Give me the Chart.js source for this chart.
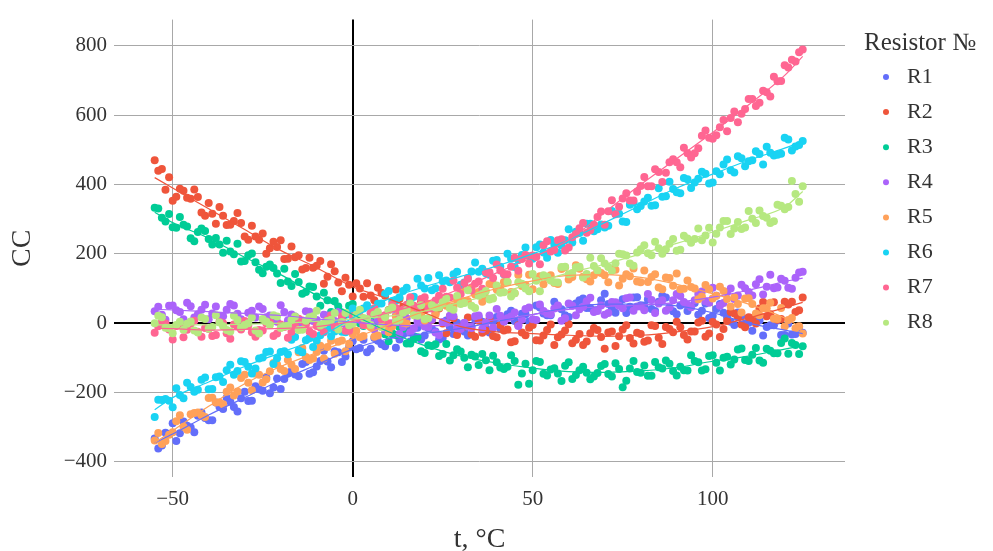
<!DOCTYPE html>
<html>
<head>
<meta charset="utf-8">
<script src="https://cdn.jsdelivr.net/npm/chart.js@4.4.1/dist/chart.umd.min.js"></script>
<style>
html, body { margin: 0; padding: 0; background: #fff; }
</style>
</head>
<body>
<canvas id="chart" width="993" height="551"></canvas>
<script>
// measurement temperatures, °C (two sweeps)
const temps = [-55,-53,-51,-49,-47,-45,-43,-41,-39,-37,-35,-33,-31,-29,-27,-25,-23,-21,-19,-17,
  -15,-13,-11,-9,-7,-5,-3,-1,1,3,5,7,9,11,13,15,17,19,21,23,25,27,29,31,33,35,37,39,41,43,
  45,47,49,51,53,55,57,59,61,63,65,67,69,71,73,75,77,79,81,83,85,87,89,91,93,95,97,99,101,103,
  105,107,109,111,113,115,117,119,121,123,125];
const temps2 = [-54,-52,-50,-48,-46,-44,-42,-40,-38,-36,-34,-32,-30,-28,-26,-24,-22,-20,-18,-16,
  -14,-12,-10,-8,-6,-4,-2,0,2,4,6,8,10,12,14,16,18,20,22,24,26,28,30,32,34,36,38,40,42,44,
  46,48,50,52,54,56,58,60,62,64,66,68,70,72,74,76,78,80,82,84,86,88,90,92,94,96,98,100,102,104,
  106,108,110,112,114,116,118,120,122,124];

const seriesNames = ['R1','R2','R3','R4','R5','R6','R7','R8'];
const legendTitle = 'Resistor №';

// sweep 1
const r1 = [-333,-353,-320,-340,-284,-301,-267,-274,-280,-242, -215,-242,-217,-225,-182,-195,-202,-160,-161,-138,
  -153,-112,-142,-109,-111,-81,-112,-70,-75,-48, -74,-51,-67,-32,-47,-14,-38,-47,-15,-24,
  -43,-12,1,-24,-10,16,-15,5,-16,26, 6,27,5,51,28,23,49,23,51,66,
  44,37,66,55,30,69,47,75,51,41, 62,74,34,51,35,58,36,15,41,30,
  4,31,-1,-22,8,-11,-6,-34,-1,-31, -28];
const r2 = [470,445,421,365,382,359,364,310,316,335, 283,295,289,241,250,259,216,220,185,221,
  196,159,160,179,134,150,92,111,115,76, 80,102,79,42,70,36,38,63,4,28,
  -1,20,-34,-10,-32,7,-22,-37,-5,-18, -52,-27,-13,-49,-36,-4,-41,-21,-58,-31,
  -53,-14,-40,-27,-66,-18,-43,-28,-54,-6, -42,-11,-26,-12,-47,-24,7,-30,-4,-17,
  32,17,-12,14,42,20,60,12,54,32, 74];
const r3 = [333,304,315,275,284,245,263,266,227,227, 238,199,178,196,176,144,169,143,157,107,
  119,90,104,50,66,64,31,50,15,-8, 6,5,-32,-29,-12,-59,-45,-81,-64,-61,
  -89,-108,-75,-100,-91,-121,-107,-94,-128,-126, -109,-145,-175,-109,-146,-134,-145,-123,-161,-136,
  -143,-154,-124,-147,-116,-185,-131,-141,-122,-152, -127,-108,-138,-126,-137,-109,-137,-95,-114,-100,
  -119,-76,-106,-91,-108,-74,-87,-57,-88,-63, -67];
const r4 = [34,24,50,37,11,49,26,53,28,18, 39,51,11,30,16,41,22,4,32,25,
  3,34,6,-11,22,6,13,-12,23,-5, 1,9,-22,0,-31,14,-15,7,-11,-27,
  3,21,-15,1,-14,22,1,-13,21,14, 31,10,45,9,35,26,51,14,50,40,
  63,32,51,29,60,43,74,48,37,67, 57,36,66,78,53,66,91,59,79,58,
  100,80,101,80,127,105,101,128,102,131, 148];
const r5 = [-339,-349,-322,-283,-299,-263,-258,-271,-215,-228, -198,-209,-158,-172,-146,-171,-139,-119,-138,-120,
  -84,-98,-102,-65,-69,-88,-50,-60,-22,-37, -12,-36,-7,-10,31,-1,29,25,56,24,
  63,46,67,63,101,90,73,112,99,119, 86,107,140,127,112,138,113,161,133,157,
  127,138,145,118,154,128,135,120,152,133, 103,132,108,98,123,100,77,98,79,93,
  48,55,71,55,23,43,13,44,9,-15, -30];
const r6 = [-271,-222,-224,-188,-217,-184,-192,-157,-190,-154, -136,-149,-110,-126,-131,-99,-82,-101,-81,-48,
  -79,-49,-69,-35,-14,-24,-25,26,18,42, 27,56,84,63,75,102,76,109,130,101,
  121,118,148,117,149,148,144,180,163,200, 162,197,193,219,204,240,203,239,233,260,
  287,265,285,281,315,293,342,329,351,339, 389,366,387,375,415,406,437,403,438,458,
  441,482,453,470,488,509,484,489,530,510, 526];
const r7 = [-28,3,-18,-8,-41,-2,-25,-14,-37,3, -29,-4,-18,-7,-39,-21,2,-30,-11,-25,
  13,-4,-31,-12,9,-11,20,-22,13,-5, 30,25,23,54,23,53,50,70,42,65,
  99,74,102,116,94,120,147,130,152,141, 189,185,172,191,225,207,239,210,248,274,
  261,284,322,323,314,360,354,379,422,395, 436,434,473,450,490,490,541,535,542,586,
  592,580,618,647,636,666,711,699,738,755, 790];
const r8 = [0,17,-15,-5,-19,5,-27,12,-11,2, -20,21,-12,0,-21,12,-5,19,-10,9,
  -20,7,20,-7,6,29,3,-6,24,15, -5,32,17,45,10,37,23,52,14,45,
  60,43,78,58,50,79,93,71,88,119, 86,114,92,122,138,123,117,163,145,163,
  142,165,187,162,173,199,172,204,225,196, 216,213,243,212,244,243,239,275,258,295,
  257,292,276,301,325,304,294,339,335,373, 395];

// sweep 2
const r1b = [-362,-316,-289,-318,-296,-315,-258,-280,-229,-248, -227,-255,-198,-224,-191,-157,-186,-190,-145,-148,
  -118,-146,-125,-80,-127,-84,-96,-52,-72,-84, -43,-61,-19,-71,-33,-53,-13,-36,-16,-47,
  8,-31,-13,-36,11,4,-27,18,5,36, -1,26,4,45,23,62,40,18,57,71,
  44,38,85,43,56,29,74,52,69,35, 79,44,26,56,47,24,57,21,55,16,
  -5,21,1,15,-36,-6,8,-34,-33,-11];
const r2b = [440,385,353,388,362,386,319,347,287,310, 284,318,250,281,241,200,235,239,186,190,
  155,189,166,114,170,117,131,77,100,115, 66,88,38,97,47,66,14,37,9,42,
  -29,14,-11,16,-39,-28,11,-41,-21,-55, -6,-35,-5,-50,-20,-63,-33,-3,-48,-63,
  -29,-20,-74,-24,-38,-6,-59,-31,-50,-8, -60,-17,4,-34,-24,2,-39,3,-40,6,
  28,-4,17,-1,61,26,10,62,62,37];
const r3b = [331,293,277,306,279,236,273,243,246,203, 207,229,179,201,154,163,159,116,120,142,
  85,106,77,88,32,48,24,55,0,-2, 17,-5,-52,-34,-16,-59,-41,-86,-66,-95,
  -60,-93,-82,-127,-96,-89,-136,-113,-132,-93, -178,-117,-136,-112,-151,-130,-167,-113,-150,-126,
  -162,-144,-118,-154,-132,-166,-109,-143,-152,-112, -131,-117,-151,-136,-93,-113,-133,-93,-137,-97,
  -105,-73,-109,-72,-114,-80,-87,-44,-57,-89];
const r4b = [47,10,51,32,59,16,39,11,48,20, 55,27,1,36,48,17,9,52,8,19,
  -10,33,9,24,-11,32,-4,-21,10,2, -18,17,-16,22,-11,-27,4,-10,10,-34,
  1,20,-17,-10,20,-17,22,41,5,19, -8,41,11,54,28,42,7,57,23,47,
  73,35,24,61,50,72,36,48,84,29, 66,46,84,61,46,84,63,102,50,89,
  70,111,90,112,83,140,103,122,99,146];
const r5b = [-317,-340,-315,-266,-308,-259,-266,-216,-229,-234, -186,-197,-149,-194,-149,-162,-115,-132,-106,-132,
  -72,-106,-83,-102,-51,-54,-81,-32,-41,-6, -39,-8,-26,19,1,44,26,8,53,72,
  50,49,100,64,83,62,113,97,119,90, 139,110,98,135,132,116,156,126,167,134,
  120,152,138,157,109,141,158,118,119,141, 98,130,143,99,104,69,110,71,105,70,
  75,31,72,28,43,59,12,-10,15,-9];
const r6b = [-221,-219,-243,-207,-172,-198,-163,-191,-156,-170, -120,-138,-112,-145,-102,-83,-118,-83,-90,-40,
  -84,-42,-50,-13,-38,-3,-26,42,17,52, 28,57,93,65,93,65,128,100,95,138,
  123,141,111,130,175,157,140,182,141,186, 182,218,186,227,189,227,224,271,264,238,
  287,271,276,324,316,292,348,338,362,340, 365,408,378,419,390,417,431,406,430,472,
  435,476,467,496,458,492,486,535,498,514];
const r7b = [-9,-1,-47,-5,-19,7,-39,-17,-34,0, -45,-10,6,-26,-20,0,-37,-4,-42,-8,
  8,-24,-8,-26,23,-8,-22,20,20,-1, 43,12,0,44,39,75,35,75,42,79,
  76,122,84,128,114,99,147,169,142,163, 151,197,195,170,236,211,242,218,257,289,
  268,306,284,355,336,375,354,396,395,444, 407,464,464,506,478,505,556,532,565,554,
  611,604,647,627,671,654,698,744,760,782];
const r8b = [21,-13,-29,4,-2,-21,16,-16,23,-9, -24,9,-5,16,-30,5,23,-14,-8,19,
  -19,17,36,-2,10,-18,29,-2,39,12, 25,-12,37,4,30,57,21,12,52,45,
  71,39,55,95,44,84,68,109,89,77, 118,100,142,92,134,118,162,141,161,132,
  189,152,172,151,200,195,166,213,202,235, 200,229,209,252,232,273,253,233,276,295,
  273,272,324,289,309,289,342,329,410,350];

// smoothed trend lines
const fitTemps = [-55,-50,-40,-30,-20,-10,0,10,20,30,40,50,60,70,80,90,100,110,120,125];
const fit1 = [-345,-320,-265,-215,-165,-120,-75,-45,-30,-15,5,25,45,55,55,50,30,0,-20,-30];
const fit2 = [420,390,330,270,210,160,105,70,30,-10,-25,-30,-35,-38,-35,-25,-10,15,45,60];
const fit3 = [320,290,245,190,140,80,25,-25,-65,-95,-115,-130,-140,-142,-138,-128,-110,-95,-75,-65];
const fit4 = [40,38,33,28,22,12,3,-5,-8,-3,10,25,40,48,52,60,75,95,120,130];
const fit5 = [-345,-310,-240,-175,-125,-85,-45,-5,35,70,100,122,138,140,132,112,85,55,15,-15];
const fit6 = [-250,-215,-170,-125,-85,-45,15,70,105,135,165,200,240,290,340,390,430,470,505,525];
const fit7 = [-15,-16,-20,-18,-15,-10,5,30,60,100,145,190,240,320,400,475,550,630,715,770];
const fit8 = [-5,-5,-5,-3,0,5,12,20,35,60,85,115,145,170,200,230,263,298,335,380];

const xTicks = [-50, 0, 50, 100];
const yTicks = [-400, -200, 0, 200, 400, 600, 800];

const colors = ['#636efa','#ef553b','#00cc96','#ab63fa','#ffa15a','#19d3f3','#ff6692','#b6e880'];
const serif = "'Liberation Serif', 'Times New Roman', serif";
const textColor = '#333';
const gridColor = '#a8a8a8';

const sweep1 = [r1, r2, r3, r4, r5, r6, r7, r8];
const sweep2 = [r1b, r2b, r3b, r4b, r5b, r6b, r7b, r8b];
const fits = [fit1, fit2, fit3, fit4, fit5, fit6, fit7, fit8];

const fmt = v => v < 0 ? '\u2212' + Math.abs(v) : String(v);

const grid = {
  color: ctx => (ctx.tick && ctx.tick.value === 0) ? '#000' : gridColor,
  lineWidth: ctx => (ctx.tick && ctx.tick.value === 0) ? 2 : 1,
  drawTicks: false
};

const pointSets = seriesNames.map((name, i) => ({
  type: 'scatter',
  label: name,
  data: temps.map((t, j) => ({ x: t, y: sweep1[i][j] }))
    .concat(temps2.map((t, j) => ({ x: t, y: sweep2[i][j] }))),
  backgroundColor: colors[i],
  borderWidth: 0,
  pointRadius: 4,
  order: 20 - i
}));

const trendSets = seriesNames.map((name, i) => ({
  type: 'line',
  label: name + ' trend',
  data: fitTemps.map((t, j) => ({ x: t, y: fits[i][j] })),
  borderColor: colors[i],
  borderWidth: 1.2,
  pointRadius: 0,
  fill: false,
  cubicInterpolationMode: 'monotone',
  order: 10 - i
}));

// legend drawn at the right, like the original
const sideLegend = {
  id: 'sideLegend',
  afterDraw(chart) {
    const ctx = chart.ctx;
    ctx.save();
    ctx.textBaseline = 'middle';
    ctx.textAlign = 'left';
    ctx.fillStyle = textColor;
    ctx.font = '25px ' + serif;
    ctx.fillText(legendTitle, 864, 43);
    ctx.font = '22px ' + serif;
    seriesNames.forEach((name, i) => {
      const y = 77 + i * 35.1;
      ctx.fillStyle = colors[i];
      ctx.beginPath();
      ctx.arc(886, y, 3, 0, Math.PI * 2);
      ctx.fill();
      ctx.fillStyle = textColor;
      ctx.fillText(name, 907, y);
    });
    ctx.restore();
  }
};

new Chart(document.getElementById('chart').getContext('2d'), {
  type: 'scatter',
  data: { datasets: pointSets.concat(trendSets) },
  options: {
    responsive: false,
    animation: false,
    layout: { padding: { top: 15, right: 148, left: 0, bottom: 0 } },
    plugins: {
      legend: { display: false },
      tooltip: { enabled: false }
    },
    scales: {
      x: {
        type: 'linear',
        min: -66.3,
        max: 136.75,
        afterBuildTicks: s => { s.ticks = xTicks.map(v => ({ value: v })); },
        afterFit: s => { s.height = 74; },
        grid: grid,
        border: { display: false },
        ticks: { padding: 10, color: textColor, font: { family: serif, size: 21 }, callback: fmt },
        title: {
          display: true, text: 't, \u00B0C', color: textColor,
          font: { family: serif, size: 28, lineHeight: 1 },
          padding: { top: 0, bottom: -3 }
        }
      },
      y: {
        type: 'linear',
        min: -444,
        max: 876,
        afterBuildTicks: s => { s.ticks = yTicks.map(v => ({ value: v })); },
        afterFit: s => { s.width = 114; },
        grid: grid,
        border: { display: false },
        ticks: { padding: 7, color: textColor, font: { family: serif, size: 21 }, callback: fmt },
        title: {
          display: true, text: 'CC', color: textColor,
          font: { family: serif, size: 28, lineHeight: 1 },
          padding: { top: 9, bottom: 0 }
        }
      }
    }
  },
  plugins: [sideLegend]
});
</script>
</body>
</html>
